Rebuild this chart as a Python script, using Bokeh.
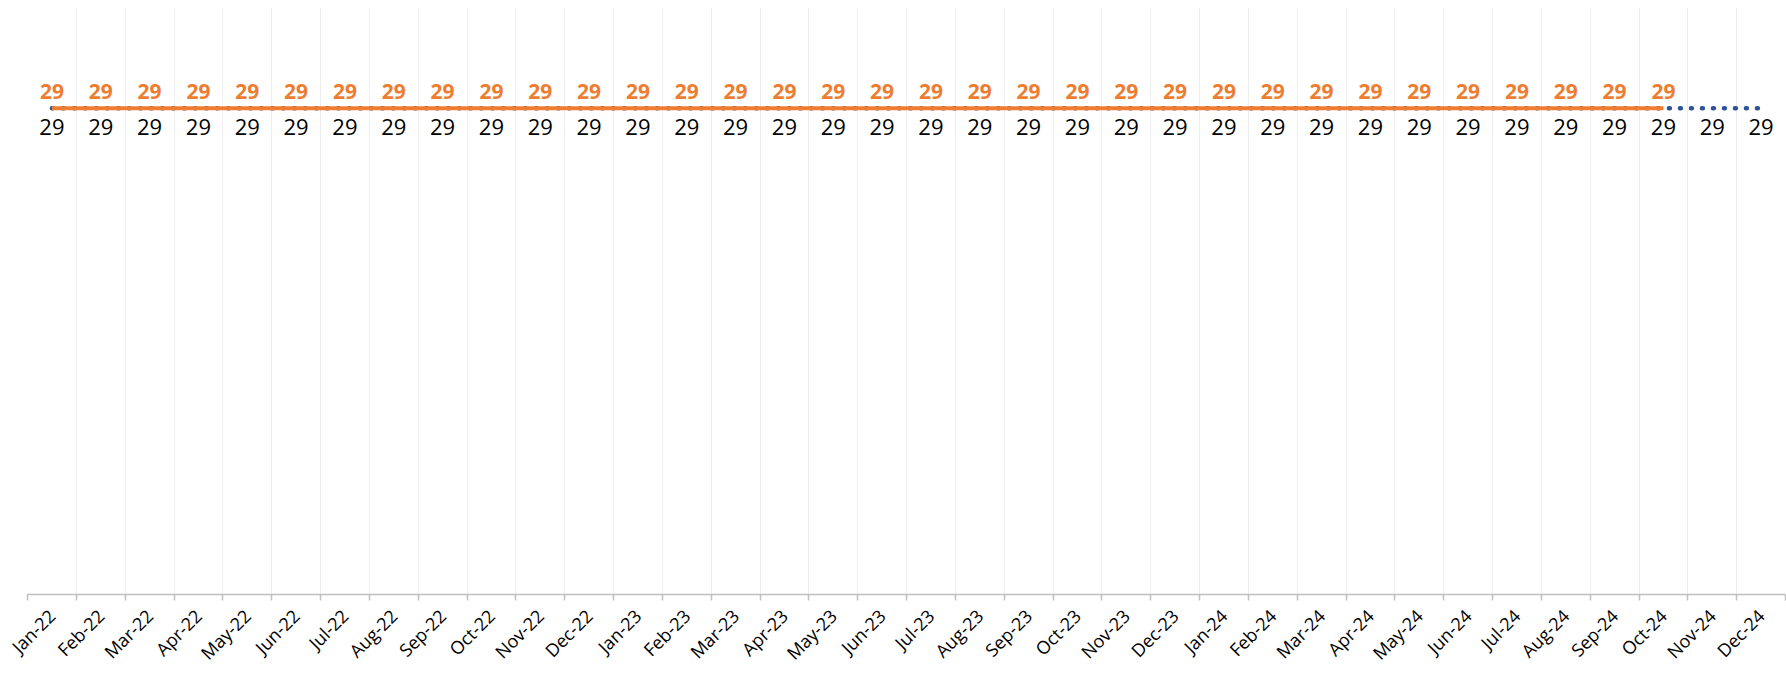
from bokeh.plotting import figure
from bokeh.models import ColumnDataSource, Range1d, FixedTicker, LabelSet
from bokeh.core.properties import value
from bokeh.embed import file_html
from bokeh.resources import INLINE
import math

months = ["Jan-22", "Feb-22", "Mar-22", "Apr-22", "May-22", "Jun-22",
          "Jul-22", "Aug-22", "Sep-22", "Oct-22", "Nov-22", "Dec-22",
          "Jan-23", "Feb-23", "Mar-23", "Apr-23", "May-23", "Jun-23",
          "Jul-23", "Aug-23", "Sep-23", "Oct-23", "Nov-23", "Dec-23",
          "Jan-24", "Feb-24", "Mar-24", "Apr-24", "May-24", "Jun-24",
          "Jul-24", "Aug-24", "Sep-24", "Oct-24", "Nov-24", "Dec-24"]

# Forecast (blue dotted, black labels below) – all 36 months
forecast = [29, 29, 29, 29, 29, 29, 29, 29, 29, 29, 29, 29,
            29, 29, 29, 29, 29, 29, 29, 29, 29, 29, 29, 29,
            29, 29, 29, 29, 29, 29, 29, 29, 29, 29, 29, 29]

# Actual (orange, bold orange labels above) – Jan-22 .. Oct-24
actual = [29, 29, 29, 29, 29, 29, 29, 29, 29, 29, 29, 29,
          29, 29, 29, 29, 29, 29, 29, 29, 29, 29, 29, 29,
          29, 29, 29, 29, 29, 29, 29, 29, 29, 29]

FONT = "Open Sans"
ORANGE = "#ED7D31"
BLUE = "#2F5597"
GRID = "#EDEDED"
AXIS = "#BFBFBF"
Y_MIN, Y_MAX = 0, 35

n = len(months)
fc_src = ColumnDataSource(dict(x=list(range(len(forecast))), y=forecast,
                               t=[str(v) for v in forecast]))
ac_src = ColumnDataSource(dict(x=list(range(len(actual))), y=actual,
                               t=[str(v) for v in actual]))

p = figure(width=1786, height=676, output_backend="svg", toolbar_location=None,
           x_range=Range1d(-0.5, n - 0.5), y_range=Range1d(Y_MIN, Y_MAX),
           min_border_left=27, min_border_right=1, min_border_top=7,
           min_border_bottom=72)
p.outline_line_color = None
p.background_fill_color = "white"
p.border_fill_color = "white"

p.yaxis.visible = False
p.ygrid.grid_line_color = None

boundaries = [i - 0.5 for i in range(n + 1)]
p.xaxis.ticker = FixedTicker(ticks=list(range(n)), minor_ticks=boundaries)
p.xaxis.major_label_overrides = {i: m for i, m in enumerate(months)}
p.xaxis.major_tick_line_color = None
p.xaxis.major_tick_out = 0
p.xaxis.major_tick_in = 0
p.xaxis.minor_tick_line_color = AXIS
p.xaxis.minor_tick_line_width = 1.5
p.xaxis.minor_tick_out = 6
p.xaxis.minor_tick_in = 0
p.xaxis.axis_line_color = AXIS
p.xaxis.axis_line_width = 1.5
p.xaxis.major_label_orientation = math.pi / 4
p.xaxis.major_label_standoff = 12
p.xaxis.major_label_text_font = FONT
p.xaxis.major_label_text_font_size = "18px"
p.xaxis.major_label_text_color = "black"

p.xgrid.ticker = FixedTicker(ticks=boundaries)
p.xgrid.grid_line_color = GRID
p.xgrid.grid_line_width = 1

p.line("x", "y", source=fc_src, line_color=BLUE, line_width=4.5,
       line_dash="1 10", line_cap="round")
p.line("x", "y", source=ac_src, line_color=ORANGE, line_width=4)

p.add_layout(LabelSet(x="x", y="y", text="t", source=fc_src, y_offset=-19,
                      text_align="center", text_baseline="middle",
                      text_font=value(FONT), text_font_size="22px",
                      text_color="black"))
p.add_layout(LabelSet(x="x", y="y", text="t", source=ac_src, y_offset=17,
                      text_align="center", text_baseline="middle",
                      text_font=value(FONT), text_font_size="21px",
                      text_font_style="bold", text_color=ORANGE))

open("out.html", "w").write(file_html(p, INLINE))
